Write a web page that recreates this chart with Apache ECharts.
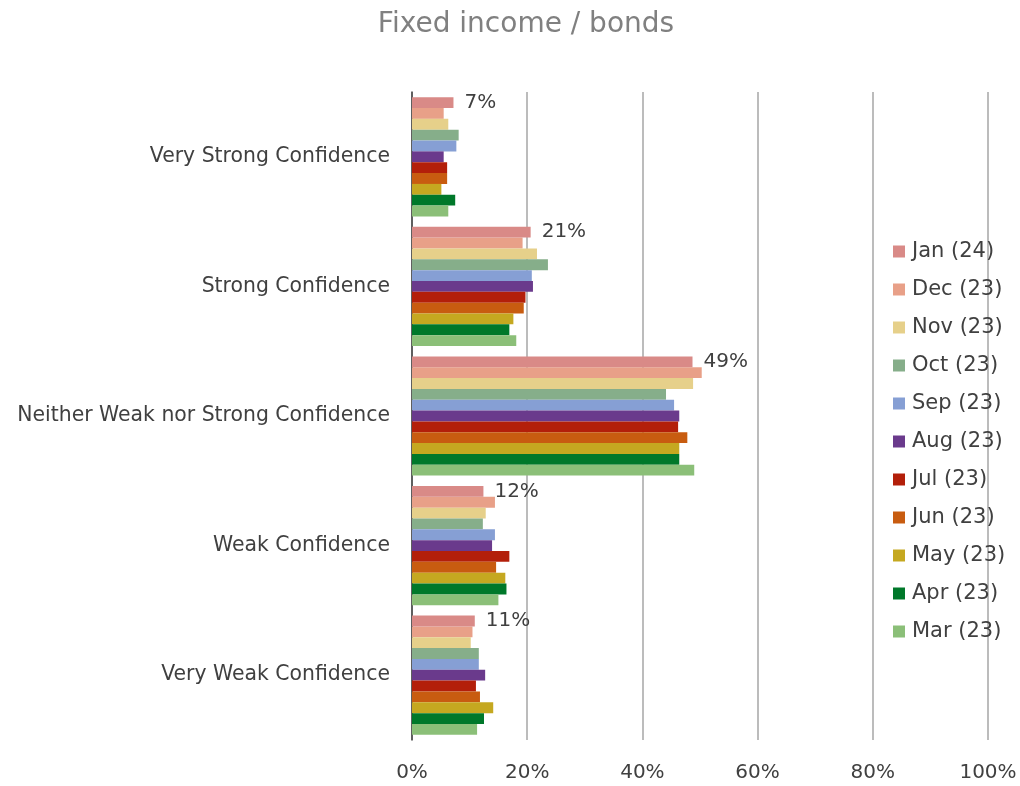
<!DOCTYPE html>
<html>
<head>
<meta charset="utf-8">
<script src="https://cdn.jsdelivr.net/npm/echarts@6/dist/echarts.min.js"></script>
<style>html,body{margin:0;padding:0;background:#fff;}#c{width:1020px;height:786px;}</style>
</head>
<body>
<div id="c"></div>
<script>
const categories = ["Very Strong Confidence", "Strong Confidence", "Neither Weak nor Strong Confidence", "Weak Confidence", "Very Weak Confidence"];
const seriesNames = ["Jan (24)", "Dec (23)", "Nov (23)", "Oct (23)", "Sep (23)", "Aug (23)", "Jul (23)", "Jun (23)", "May (23)", "Apr (23)", "Mar (23)"];
const colors = ["#D98A87", "#E8A088", "#E6D08A", "#86AE8A", "#869FD4", "#6A3A8C", "#B31F0A", "#C85C10", "#C5A820", "#00782A", "#8BBF78"];
const jan24 = [7.2, 20.6, 48.7, 12.4, 10.9];
const dec23 = [5.5, 19.2, 50.3, 14.4, 10.5];
const nov23 = [6.3, 21.7, 48.8, 12.8, 10.2];
const oct23 = [8.1, 23.6, 44.1, 12.3, 11.6];
const sep23 = [7.7, 20.8, 45.5, 14.4, 11.6];
const aug23 = [5.5, 21.0, 46.4, 13.9, 12.7];
const jul23 = [6.1, 19.7, 46.2, 16.9, 11.1];
const jun23 = [6.1, 19.4, 47.8, 14.6, 11.8];
const may23 = [5.1, 17.6, 46.4, 16.2, 14.1];
const apr23 = [7.5, 16.9, 46.4, 16.4, 12.5];
const mar23 = [6.3, 18.1, 49.0, 15.0, 11.3];
const xTicks = [0, 20, 40, 60, 80, 100];

const allData = [jan24, dec23, nov23, oct23, sep23, aug23, jul23, jun23, may23, apr23, mar23];
const FONT = "DejaVu Sans";

const series = seriesNames.map((name, i) => ({
  name: name,
  type: 'bar',
  data: allData[i],
  barGap: '0%',
  barCategoryGap: '8%',
  itemStyle: { color: colors[i] },
  z: i === 0 ? 3 : 2,
  label: i === 0 ? {
    show: true,
    position: 'right',
    distance: 11,
    fontFamily: FONT,
    fontSize: 20,
    color: '#404040',
    formatter: p => Math.round(p.value) + '%'
  } : { show: false }
}));

const chart = echarts.init(document.getElementById('c'));
chart.setOption({
  animation: false,
  backgroundColor: '#fff',
  title: {
    text: 'Fixed income / bonds',
    left: 521,
    textAlign: 'center',
    top: 6,
    textStyle: { fontFamily: FONT, fontSize: 28, fontWeight: 'normal', color: '#808080' }
  },
  legend: {
    orient: 'vertical',
    left: 888,
    top: 236,
    itemWidth: 12,
    itemHeight: 12,
    itemGap: 17,
    icon: 'rect',
    data: seriesNames,
    textStyle: { fontFamily: FONT, fontSize: 21, color: '#404040', padding: [0, 0, 0, 2] }
  },
  grid: { left: 412, right: 32, top: 92, bottom: 46 },
  xAxis: {
    type: 'value',
    min: 0,
    max: 100,
    interval: 20,
    axisLine: { show: false },
    axisTick: { show: false },
    splitLine: { show: true, lineStyle: { color: '#A6A6A6', width: 1.5 } },
    axisLabel: {
      fontFamily: FONT, fontSize: 20, color: '#404040', margin: 23,
      formatter: v => (xTicks.indexOf(v) >= 0 ? v + '%' : '')
    }
  },
  yAxis: {
    type: 'category',
    data: categories,
    inverse: true,
    axisLine: { show: true, lineStyle: { color: '#404040', width: 1.5 } },
    axisTick: { show: false },
    axisLabel: { fontFamily: FONT, fontSize: 20.4, color: '#404040', margin: 22 }
  },
  series: series
});
</script>
</body>
</html>
